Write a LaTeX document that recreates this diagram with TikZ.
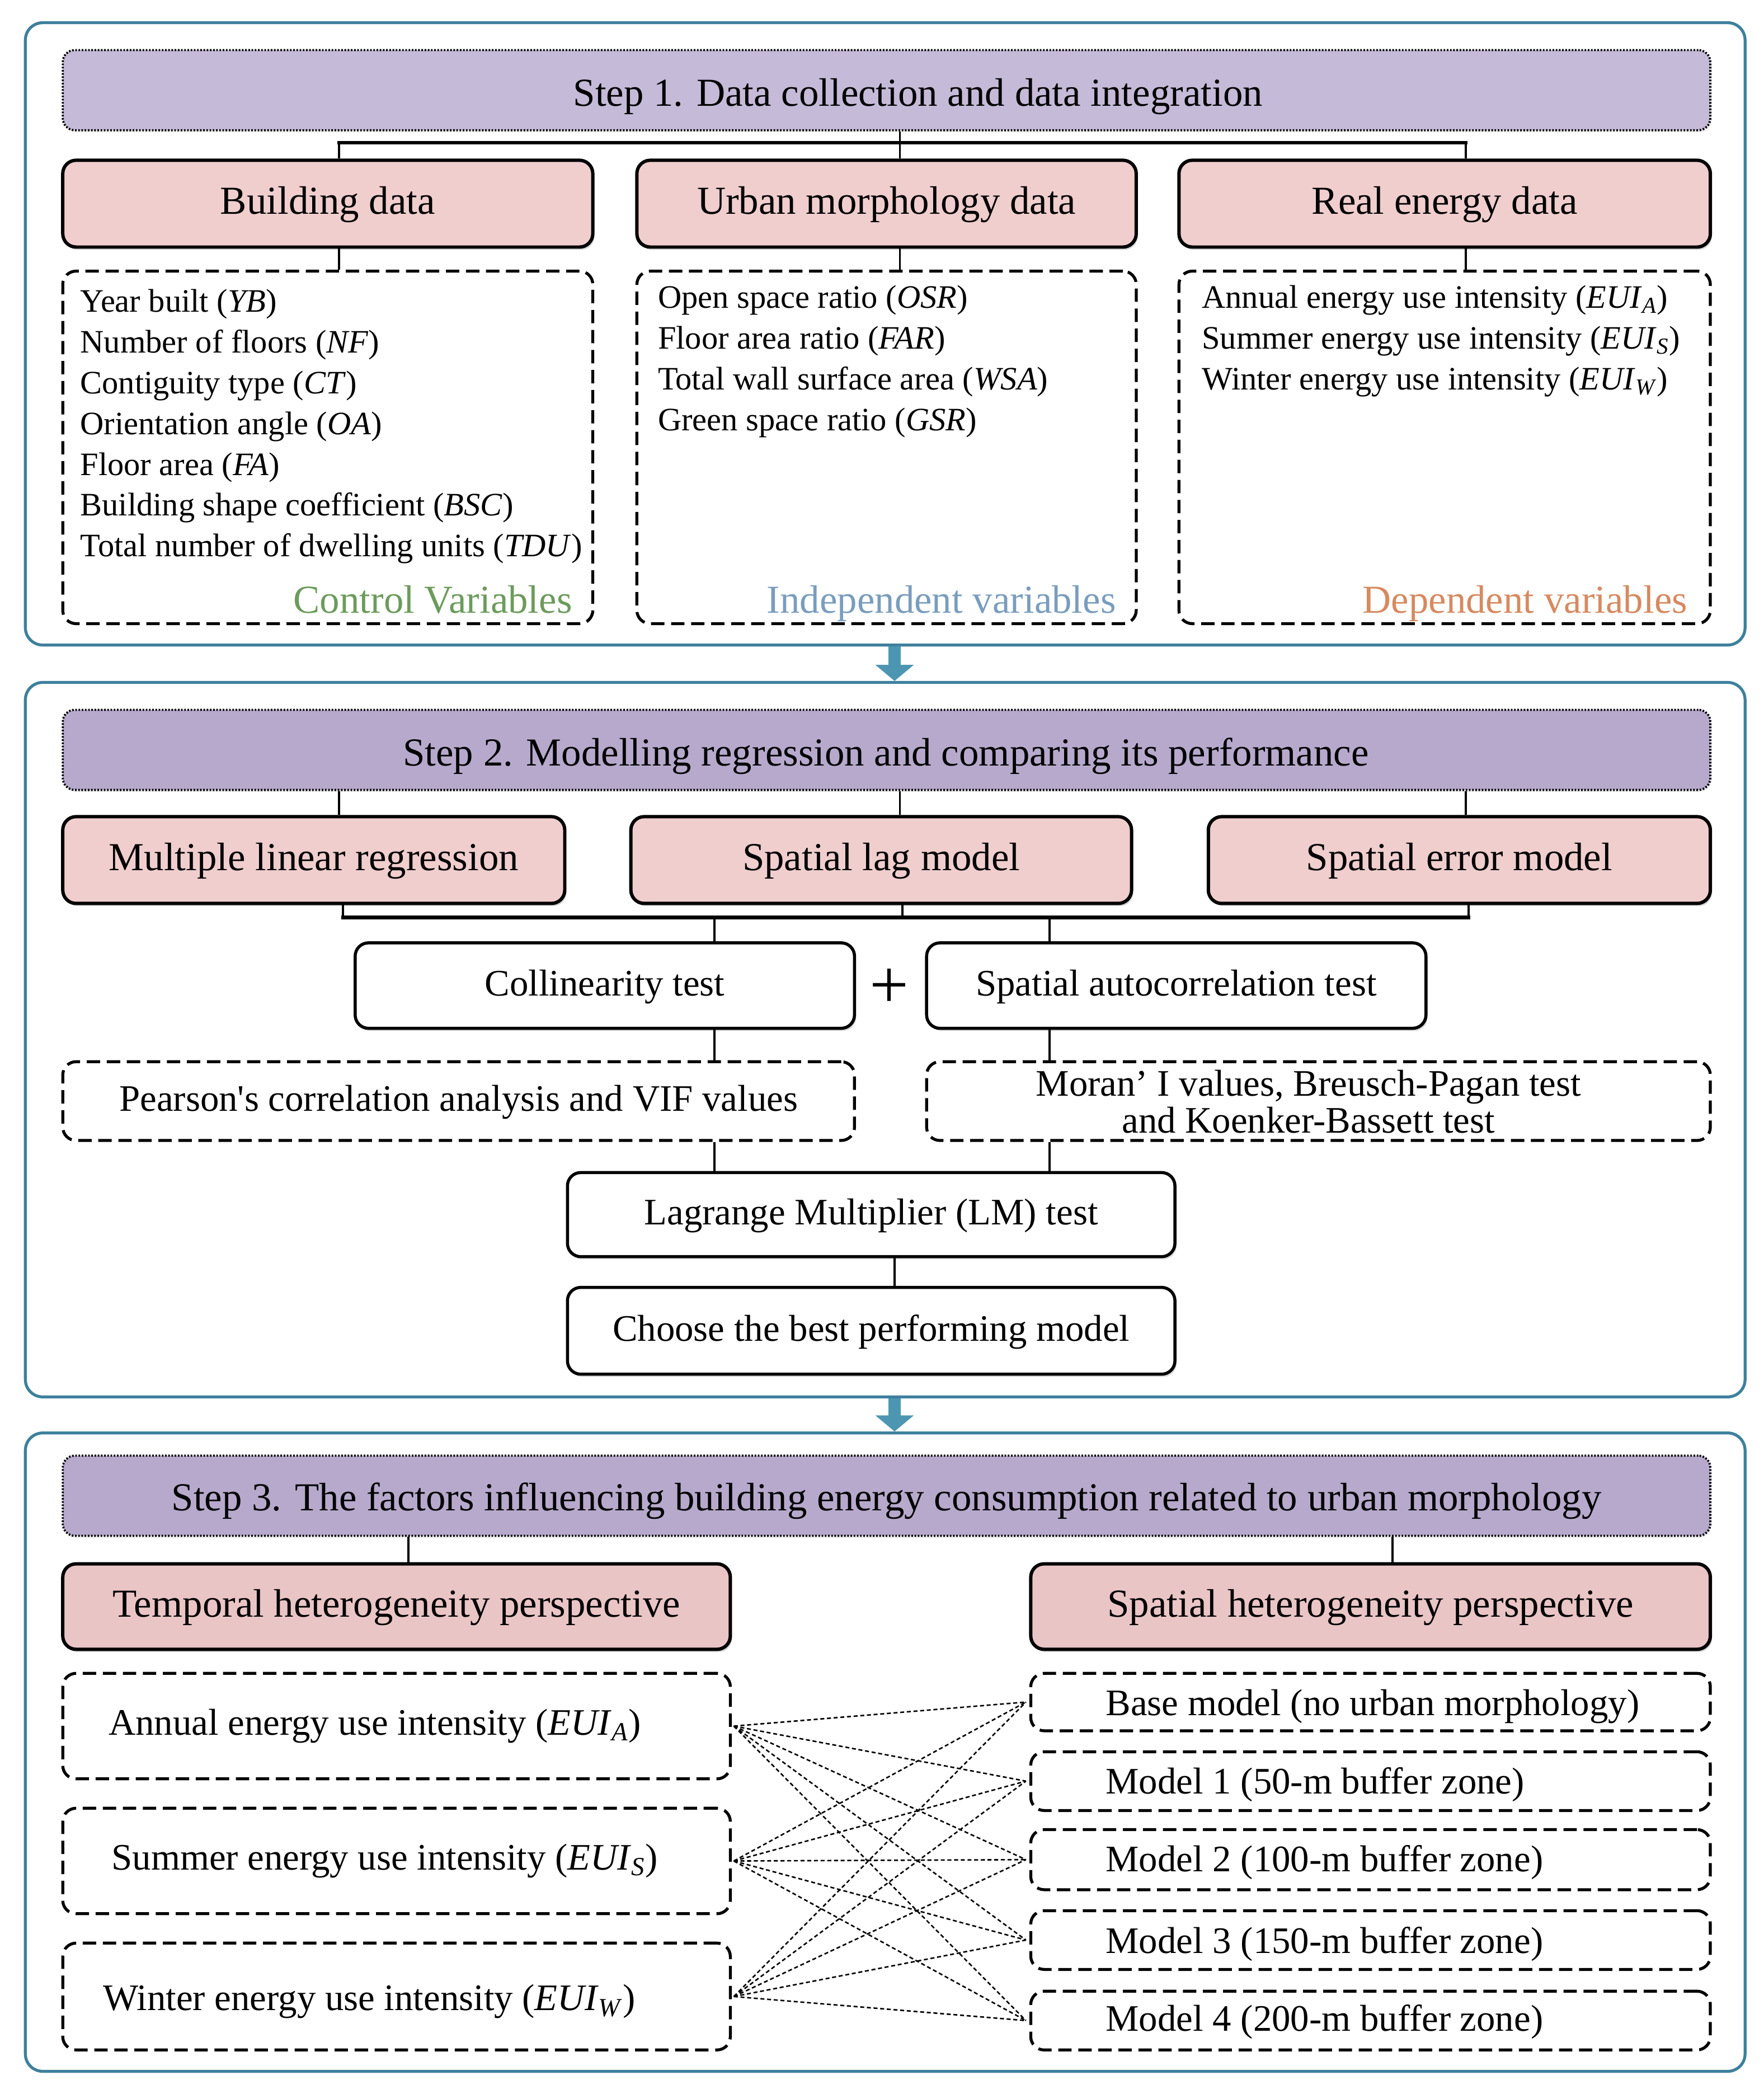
\documentclass[tikz,border=0pt]{standalone}
\usepackage{fontspec}
\setmainfont{Liberation Serif}
\usetikzlibrary{arrows.meta,shadows}
\definecolor{panelc}{RGB}{62,128,156}
\definecolor{arrowc}{RGB}{76,150,178}
\definecolor{hdrA}{RGB}{197,186,215}
\definecolor{hdrB}{RGB}{183,169,204}
\definecolor{pinkA}{RGB}{240,206,206}
\definecolor{pinkB}{RGB}{234,197,198}
\definecolor{ctrlc}{RGB}{108,155,92}
\definecolor{indc}{RGB}{122,157,190}
\definecolor{depc}{RGB}{214,138,96}
\newcommand{\fHead}{\fontsize{29.7}{33}\selectfont}
\newcommand{\fMid}{\fontsize{28}{27.7}\selectfont}
\newcommand{\fList}{\fontsize{24.5}{30}\selectfont}
\newcommand{\fPlus}{\fontsize{52}{52}\selectfont}
\newcommand{\eui}[1]{\textit{EUI}\textsubscript{\textit{#1}}}
\tikzset{
  thead/.style={font=\fHead, text height=21pt, text depth=5.2pt},
  tmid/.style={font=\fMid, text height=20pt, text depth=5pt},
  tlist/.style={font=\fList, text height=17.7pt, text depth=4.5pt},
  panel/.style={draw=panelc, line width=2.2pt, rounded corners=13pt, inner sep=0pt},
  stephdr/.style={draw=black, line width=1.6pt, dash pattern=on 1.2pt off 1.2pt, rounded corners=9pt, inner sep=0pt, minimum width=1234pt, minimum height=60pt, drop shadow={shadow xshift=1pt, shadow yshift=-1.5pt, opacity=0.15}},
  pinkbox/.style={draw=black, line width=2.5pt, rounded corners=10pt, fill=pinkA, inner sep=0pt, thead, drop shadow={shadow xshift=1.2pt, shadow yshift=-2pt, opacity=0.35}},
  whitebox/.style={draw=black, line width=2.3pt, rounded corners=10pt, fill=white, inner sep=0pt, tmid, drop shadow={shadow xshift=1.2pt, shadow yshift=-2pt, opacity=0.3}},
  dbox/.style={draw=black, line width=2.2pt, dash pattern=on 10pt off 5pt, rounded corners=10pt, inner sep=0pt, tmid},
  txt/.style={inner sep=0pt},
  conn/.style={line width=1.6pt},
  bus/.style={line width=2.6pt, line cap=rect},
  cross/.style={line width=1.1pt, dash pattern=on 3pt off 2pt},
  bigarrow/.style={draw=arrowc, line width=9pt, -{Triangle[width=28pt,length=12pt,fill=arrowc]}},
}
\begin{document}
\begin{tikzpicture}[x=1pt,y=-1pt]
\useasboundingbox (0,0) rectangle (1321,1568);
% panels
\node[panel, minimum width=1288pt, minimum height=466pt] (p1) at (663,250) {};
\node[panel, minimum width=1288pt, minimum height=535pt] (p2) at (663,778.5) {};
\node[panel, minimum width=1288pt, minimum height=478pt] (p3) at (663,1312) {};
\draw[bigarrow] ([xshift=7pt]p1.south) -- ([xshift=7pt]p2.north);
\draw[bigarrow] ([xshift=7pt]p2.south) -- ([xshift=7pt]p3.north);

% ---------- Step 1 ----------
\node[stephdr, fill=hdrA] (s1) at (664,67.5) {};
\node[txt, thead] (s1t) at (687.5,71.7) {Step 1. Data collection and data integration};
\node[pinkbox, minimum width=397pt, minimum height=65pt] (bd) at (245.5,152.5) {Building data};
\node[pinkbox, minimum width=374pt, minimum height=65pt] (um) at (664,152.5) {Urban morphology data};
\node[pinkbox, minimum width=398pt, minimum height=65pt] (re) at (1082,152.5) {Real energy data};
\node[dbox, minimum width=397pt, minimum height=264pt] (vb) at (245.5,335) {};
\node[dbox, minimum width=374pt, minimum height=264pt] (vu) at (664,335) {};
\node[dbox, minimum width=398pt, minimum height=264pt] (vr) at (1082,335) {};
\coordinate (k1) at (254,107);
\coordinate (k2) at (674,107);
\coordinate (k3) at (1098,107);
\draw[bus] (k1) -- (k3);
\draw[conn] (k2 |- s1.south) -- (k2);
\draw[conn] (k1) -- (k1 |- bd.north);
\draw[conn] (k2) -- (k2 |- um.north);
\draw[conn] (k3) -- (k3 |- re.north);
\draw[conn] (k1 |- bd.south) -- (k1 |- vb.north);
\draw[conn] (k2 |- um.south) -- (k2 |- vu.north);
\draw[conn] (k3 |- re.south) -- (k3 |- vr.north);

\begin{scope}[every node/.style={txt, tlist, anchor=west}]
\node (b1) at (60,227.2) {Year built (\textit{YB})};
\node (b2) at (60,257.7) {Number of floors (\textit{NF})};
\node (b3) at (60,288.2) {Contiguity type (\textit{CT})};
\node (b4) at (60,318.7) {Orientation angle (\textit{OA})};
\node (b5) at (60,349.2) {Floor area (\textit{FA})};
\node (b6) at (60,379.7) {Building shape coefficient (\textit{BSC})};
\node (b7) at (60,410.2) {Total number of dwelling units (\textit{TDU})};
\node (u1) at (492.6,224.2) {Open space ratio (\textit{OSR})};
\node (u2) at (492.6,254.7) {Floor area ratio (\textit{FAR})};
\node (u3) at (492.6,285.2) {Total wall surface area (\textit{WSA})};
\node (u4) at (492.6,315.8) {Green space ratio (\textit{GSR})};
\node (e1) at (900,224.2) {Annual energy use intensity (\eui{A})};
\node (e2) at (900,254.7) {Summer energy use intensity (\eui{S})};
\node (e3) at (900,285.2) {Winter energy use intensity (\eui{W})};
\end{scope}
\node[txt, thead, anchor=east, text=ctrlc] (lc) at (428.7,451.2) {Control Variables};
\node[txt, thead, anchor=east, text=indc] (li) at (836,451.2) {Independent variables};
\node[txt, thead, anchor=east, text=depc] (ld) at (1264,451.2) {Dependent variables};

% ---------- Step 2 ----------
\node[stephdr, fill=hdrB] (s2) at (664,561.5) {};
\node[txt, thead] (s2t) at (663.5,565.7) {Step 2. Modelling regression and comparing its performance};
\node[pinkbox, minimum width=376pt, minimum height=65pt] (mlr) at (235,644) {Multiple linear regression};
\node[pinkbox, minimum width=375pt, minimum height=65pt] (slm) at (660,644) {Spatial lag model};
\node[pinkbox, minimum width=376pt, minimum height=65pt] (sem) at (1093,644) {Spatial error model};
\draw[conn] (k1 |- s2.south) -- (k1 |- mlr.north);
\draw[conn] (k2 |- s2.south) -- (k2 |- slm.north);
\draw[conn] (k3 |- s2.south) -- (k3 |- sem.north);
\node[whitebox, minimum width=374pt, minimum height=64pt] (ct) at (453,738) {Collinearity test};
\node[whitebox, minimum width=374pt, minimum height=64pt] (sat) at (881,738) {Spatial autocorrelation test};
\node[inner sep=0pt, font=\fPlus] (plus) at (666,740) {+};
\node[dbox, minimum width=593pt, minimum height=59pt] (pear) at (343.5,824.5) {Pearson\textquotesingle s correlation analysis and VIF values};
\node[dbox, minimum width=587pt, minimum height=59pt] (moran) at (987.5,824.5) {};
\node[inner sep=0pt, font=\fMid, align=center] (mt) at (980,825) {Moran’ I values, Breusch-Pagan test\\and Koenker-Bassett test};
\node[whitebox, minimum width=455pt, minimum height=63pt] (lm) at (652.5,909.5) {Lagrange Multiplier (LM) test};
\node[whitebox, minimum width=455pt, minimum height=65pt] (ch) at (652.5,996.5) {Choose the best performing model};
\coordinate (q1) at (257,687);
\coordinate (q2) at (676,687);
\coordinate (q3) at (1100,687);
\coordinate (qa) at (535,687);
\coordinate (qb) at (786,687);
\coordinate (qc) at (670,0);
\draw[conn] (q1 |- mlr.south) -- (q1);
\draw[conn] (q2 |- slm.south) -- (q2);
\draw[conn] (q3 |- sem.south) -- (q3);
\draw[bus] (q1) -- (q3);
\draw[conn] (qa) -- (qa |- ct.north);
\draw[conn] (qb) -- (qb |- sat.north);
\draw[conn] (qa |- ct.south) -- (qa |- pear.north);
\draw[conn] (qb |- sat.south) -- (qb |- moran.north);
\draw[conn] (qa |- pear.south) -- (qa |- lm.north);
\draw[conn] (qb |- moran.south) -- (qb |- lm.north);
\draw[conn] (qc |- lm.south) -- (qc |- ch.north);

% ---------- Step 3 ----------
\node[stephdr, fill=hdrB] (s3) at (664,1120) {};
\node[txt, thead] (s3t) at (664,1123.2) {Step 3. The factors influencing building energy consumption related to urban morphology};
\node[pinkbox, fill=pinkB, minimum width=500pt, minimum height=64pt] (thp) at (297,1203) {Temporal heterogeneity perspective};
\node[pinkbox, fill=pinkB, minimum width=509pt, minimum height=64pt] (shp) at (1026.5,1203) {Spatial heterogeneity perspective};
\coordinate (r1) at (306,0);
\coordinate (r2) at (1043,0);
\draw[conn] (r1 |- s3.south) -- (r1 |- thp.north);
\draw[conn] (r2 |- s3.south) -- (r2 |- shp.north);

\node[dbox, minimum width=500pt, minimum height=79pt] (ea) at (297,1292.5) {};
\node[dbox, minimum width=500pt, minimum height=79pt] (es) at (297,1393.5) {};
\node[dbox, minimum width=500pt, minimum height=80pt] (ew) at (297,1495) {};
\node[txt, tmid, anchor=west] (eat) at (81.2,1291.5) {Annual energy use intensity (\eui{A})};
\node[txt, tmid, anchor=west] (est) at (83.4,1392.5) {Summer energy use intensity (\eui{S})};
\node[txt, tmid, anchor=west] (ewt) at (77,1498) {Winter energy use intensity (\eui{W})};

\node[dbox, minimum width=509pt, minimum height=43pt] (m0) at (1026.5,1274.5) {};
\node[dbox, minimum width=509pt, minimum height=44pt] (m1) at (1026.5,1333.7) {};
\node[dbox, minimum width=509pt, minimum height=45pt] (m2) at (1026.5,1392.5) {};
\node[dbox, minimum width=509pt, minimum height=44pt] (m3) at (1026.5,1452.7) {};
\node[dbox, minimum width=509pt, minimum height=44pt] (m4) at (1026.5,1513) {};
\begin{scope}[every node/.style={txt, tmid, anchor=west}]
\node (m0t) at (828,1277) {Base model (no urban morphology)};
\node (m1t) at (828,1335.5) {Model 1 (50-m buffer zone)};
\node (m2t) at (828,1394) {Model 2 (100-m buffer zone)};
\node (m3t) at (828,1455) {Model 3 (150-m buffer zone)};
\node (m4t) at (828,1513.5) {Model 4 (200-m buffer zone)};
\end{scope}
\foreach \a in {ea,es,ew}{
  \foreach \b in {m0,m1,m2,m3,m4}{
    \draw[cross] ([xshift=1.5pt]\a.east) -- ([xshift=-2.5pt]\b.west);
  }
}
\end{tikzpicture}
\end{document}
